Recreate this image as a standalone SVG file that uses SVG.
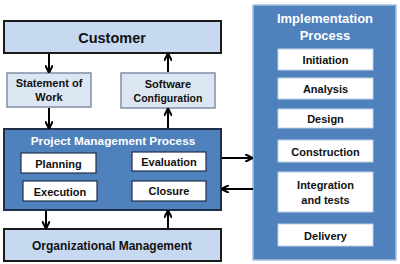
<svg xmlns="http://www.w3.org/2000/svg" width="400" height="264" viewBox="0 0 400 264">
<defs>
<marker id="ah" viewBox="0 0 10 10" refX="9" refY="5" markerWidth="4" markerHeight="4" orient="auto-start-reverse">
<path d="M0,0 L10,5 L0,10" fill="none" stroke="#000" stroke-width="2.5"/>
</marker>
<style>
text{font-family:"Liberation Sans",Arial,sans-serif;font-weight:bold;text-anchor:middle;dominant-baseline:central}
.lb{fill:#c6d9f1;stroke:#1a1a1a;stroke-width:2}
.pl{fill:#dce6f2;stroke:#7f8fa6;stroke-width:1.5}
.bl{fill:#4f81bd;stroke:#1f2f4a;stroke-width:2}
.ib{fill:#4f81bd;stroke:#a7c0de;stroke-width:1.5}
.wb{fill:#fff;stroke:#1f2f4a;stroke-width:1.2}
.wi{fill:#fff;stroke:#c0d0e6;stroke-width:1}
.t{fill:#111;font-size:11px}
.tw{fill:#fff;font-size:11.8px}
.c{stroke:#000;stroke-width:2;fill:none;marker-end:url(#ah)}
</style>
</defs>
<rect width="400" height="264" fill="#fff"/>
<g id="customer"><rect class="lb" x="4" y="21" width="217" height="32"/><text class="t" x="112" y="38" style="font-size:14.5px">Customer</text></g>
<g id="sow"><rect class="pl" x="7" y="73" width="84" height="34"/><text class="t" x="49" y="83">Statement of</text><text class="t" x="49" y="97">Work</text></g>
<g id="swconf"><rect class="pl" x="121" y="73" width="94" height="35"/><text class="t" x="168" y="84">Software</text><text class="t" x="168" y="98" style="font-size:10.5px">Configuration</text></g>
<g id="pmp"><rect class="bl" x="4" y="129" width="217" height="81"/><text class="tw" x="113" y="141">Project Management Process</text>
<rect class="wb" x="21" y="153" width="75" height="20"/><text class="t" x="58.5" y="163.5">Planning</text>
<rect class="wb" x="23" y="181" width="74" height="20"/><text class="t" x="60" y="191.5">Execution</text>
<rect class="wb" x="132" y="152" width="74" height="19"/><text class="t" x="169" y="162">Evaluation</text>
<rect class="wb" x="132" y="181" width="74" height="20"/><text class="t" x="169" y="191">Closure</text></g>
<g id="org"><rect class="lb" x="4" y="229" width="217" height="32"/><text class="t" x="112" y="246" style="font-size:12px">Organizational Management</text></g>
<g id="impl"><rect class="ib" x="253" y="5" width="143" height="255"/><text class="tw" x="325" y="18" style="font-size:13px">Implementation</text><text class="tw" x="325" y="35" style="font-size:13px">Process</text>
<rect class="wi" x="278" y="49" width="95" height="21"/><text class="t" x="325.5" y="60">Initiation</text>
<rect class="wi" x="278" y="78" width="95" height="21"/><text class="t" x="325.5" y="89">Analysis</text>
<rect class="wi" x="278" y="109" width="95" height="19"/><text class="t" x="325.5" y="118.5">Design</text>
<rect class="wi" x="278" y="140" width="95" height="22"/><text class="t" x="325.5" y="151.5">Construction</text>
<rect class="wi" x="278" y="172" width="95" height="40"/><text class="t" x="325.5" y="185">Integration</text><text class="t" x="325.5" y="200">and tests</text>
<rect class="wi" x="278" y="224" width="95" height="22"/><text class="t" x="325.5" y="235.5">Delivery</text></g>
<g id="connectors">
<line class="c" x1="49" y1="54" x2="49" y2="72"/>
<line class="c" x1="49" y1="108" x2="49" y2="128"/>
<line class="c" x1="168" y1="72" x2="168" y2="54"/>
<line class="c" x1="168" y1="128" x2="168" y2="109"/>
<line class="c" x1="46" y1="211" x2="46" y2="228"/>
<line class="c" x1="168" y1="228" x2="168" y2="211"/>
<line class="c" x1="222" y1="158" x2="252" y2="158"/>
<line class="c" x1="253" y1="189" x2="222" y2="189"/>
</g>
</svg>
